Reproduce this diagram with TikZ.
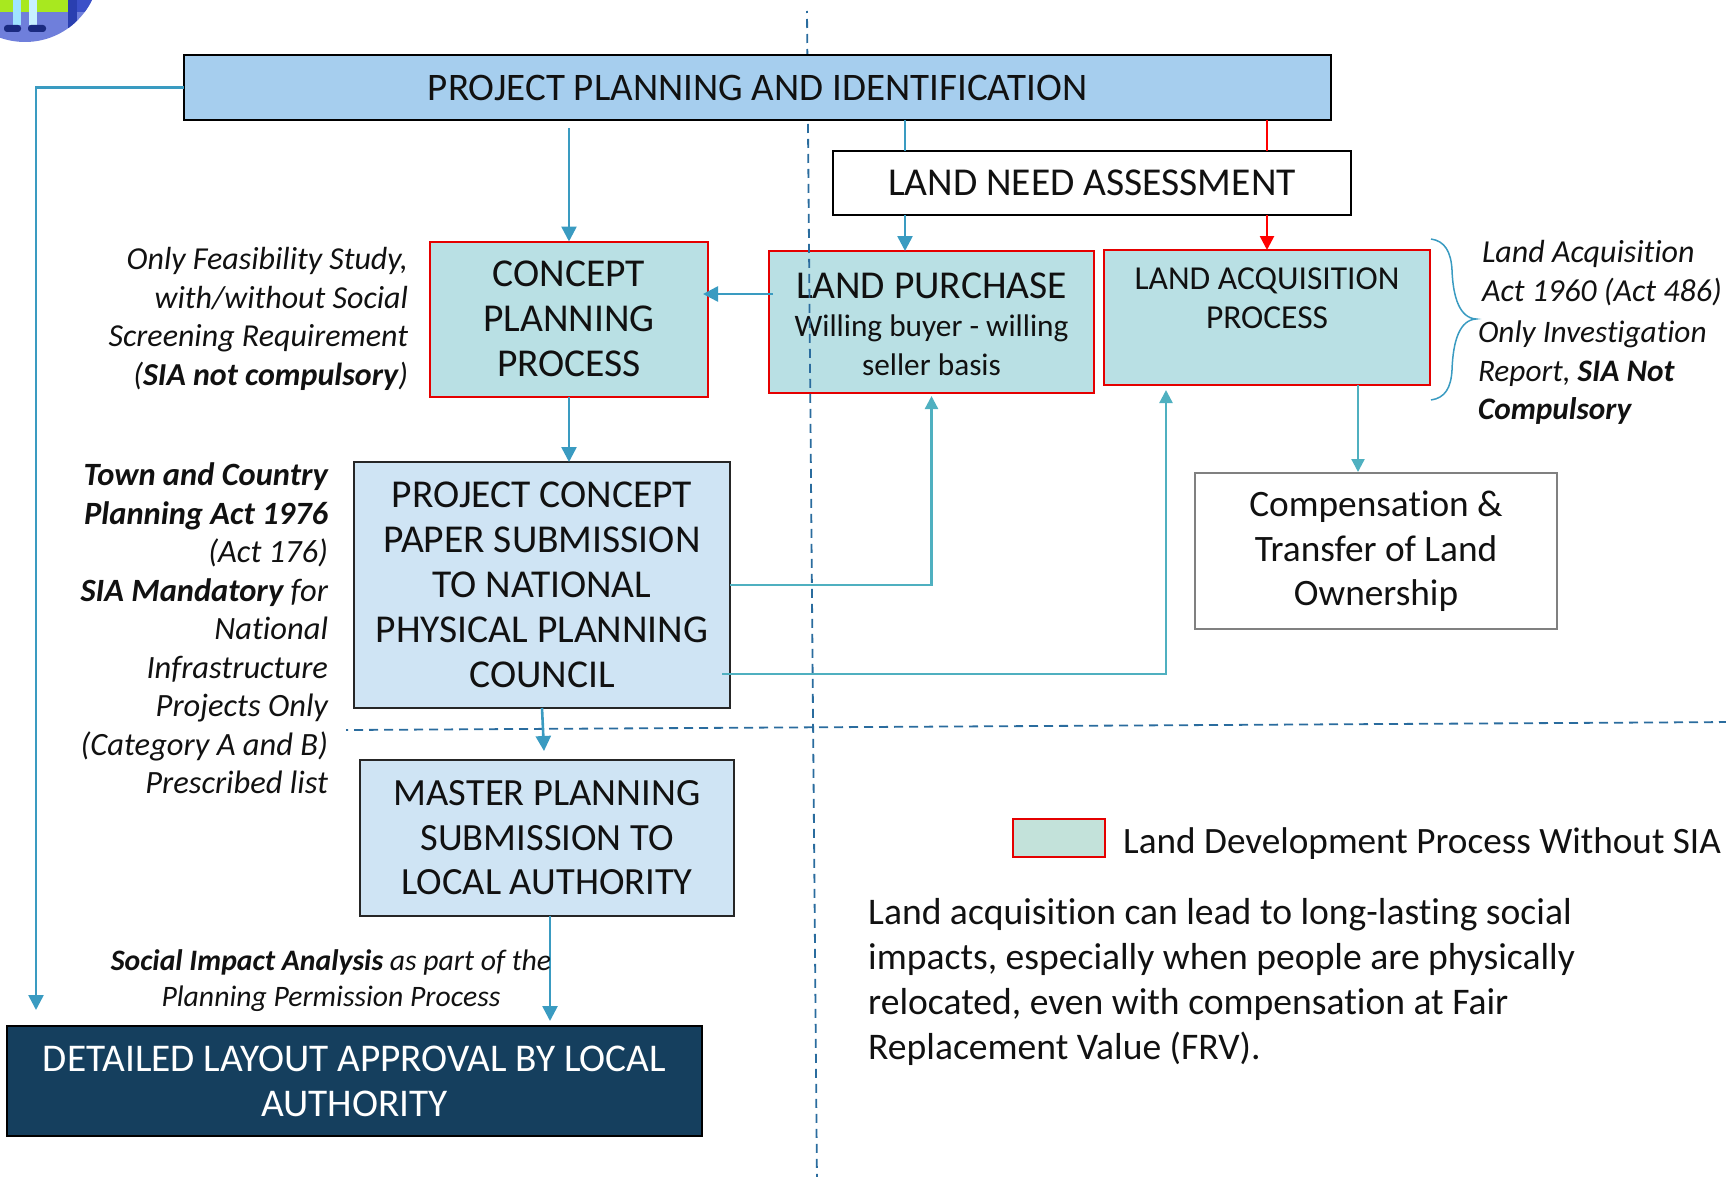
\documentclass[tikz,border=0pt]{standalone}
\usepackage{fontspec}
\setmainfont{Carlito}[Ligatures={NoCommon}]
\usetikzlibrary{arrows.meta,calc}
\definecolor{topfill}{HTML}{A6CEEE}
\definecolor{lightfill}{HTML}{CFE4F4}
\definecolor{tealfill}{HTML}{B9E0E4}
\definecolor{legfill}{HTML}{C3E2DA}
\definecolor{navyfill}{HTML}{153F5E}
\definecolor{arrowblue}{HTML}{3A9BC1}
\definecolor{arrowteal}{HTML}{4FB0C0}
\definecolor{dashblue}{HTML}{2A6C9E}
\definecolor{ink}{HTML}{111111}
\definecolor{logoback}{HTML}{6F7FDB}
\definecolor{logogreen}{HTML}{A8E81F}
\definecolor{logobar}{HTML}{2A3FB0}
\definecolor{logostrip}{HTML}{3B50C8}
\definecolor{logofoot}{HTML}{1A2A80}
\definecolor{logolegA}{HTML}{A0E4FF}
\definecolor{logolegB}{HTML}{C8F0FF}
\newcommand{\fs}[2]{\fontsize{#1pt}{#2pt}\selectfont}
\tikzset{
  x=1pt,y=-1pt,
  boxbase/.style={draw,line width=2pt,inner sep=0pt,outer sep=0pt,align=center,text=ink,font=\fs{39.5}{45}},
  topbox/.style={boxbase,draw=black,fill=topfill},
  bluebox/.style={boxbase,draw=black!85,fill=lightfill},
  plainbox/.style={boxbase,draw=black,fill=white},
  greybox/.style={boxbase,draw=black!50,fill=white},
  redbox/.style={boxbase,draw=red!90!black,fill=tealfill},
  navybox/.style={boxbase,draw=black,fill=navyfill,text=white},
  note/.style={inner sep=0pt,outer sep=0pt,text=ink,font=\fs{32}{38.5}\itshape},
  flow/.style={draw=arrowblue,line width=2.6pt,-{Triangle[width=15pt,length=15pt]}},
  flowplain/.style={draw=arrowblue,line width=2.6pt},
  tealflow/.style={draw=arrowteal,line width=2.3pt,-{Triangle[width=13pt,length=13pt]}},
  redflow/.style={draw=red,line width=2.6pt,-{Triangle[width=14pt,length=14pt]}},
  redplain/.style={draw=red,line width=2.6pt},
  guide/.style={draw=dashblue,line width=1.8pt,dash pattern=on 9pt off 6pt,dash phase=7pt},
}
\begin{document}
\begin{tikzpicture}
\useasboundingbox (0,0) rectangle (1726,1177);
% logo
\begin{scope}
\clip (0,0) rectangle (100,50);
\fill[logoback] (25,-32.4) circle (74.4);
\clip (25,-32.4) circle (74.4);
\fill[logogreen] (0,0) rectangle (68,12);
\fill[logobar] (68,0) rectangle (77,28);
\fill[logostrip] (77,0) rectangle (95,12);
\fill[logolegA] (13,0) rectangle (21,25);
\fill[logolegB] (29,0) rectangle (37,25);
\fill[logofoot,rounded corners=3pt] (4,25) rectangle (21,32);
\fill[logofoot,rounded corners=3pt] (28,25) rectangle (46,32);
\end{scope}
% guide lines
\coordinate (vtop) at (807,11);
\coordinate (vbot) at (817,1185);
\coordinate (hleft) at (346,730);
\coordinate (hright) at (1736,722);
% boxes beneath the guide lines
\node[redbox,minimum width=278pt,minimum height=155pt] (concept) at (569,319) {CONCEPT\\PLANNING\\PROCESS};
\node[redbox,minimum width=325pt,minimum height=142pt,font=\fs{31.3}{38.5}] (purchase) at (931.5,322) {\fs{39.5}{41}\rule{0pt}{30pt}LAND PURCHASE\\\fs{31.3}{38.5}Willing buyer - willing\\seller basis};
\node[redbox,minimum width=326pt,minimum height=135pt] (acq) at (1267,317.5) {};
\node[inner sep=0pt,text=ink,align=center,font=\fs{33.5}{39}] (acqlabel) at (1267,298) {LAND ACQUISITION\\PROCESS};
\node[bluebox,minimum width=376pt,minimum height=246pt] (paper) at (542,585) {PROJECT CONCEPT\\PAPER SUBMISSION\\TO NATIONAL\\PHYSICAL PLANNING\\COUNCIL};
\node[greybox,minimum width=362pt,minimum height=156pt] (comp) at (1376,551) {};
\node[inner sep=0pt,text=ink,align=center,font=\fs{37.3}{44.5}] (complabel) at (1376,551.5) {Compensation \&\\Transfer of Land\\Ownership};
\node[bluebox,minimum width=374pt,minimum height=156pt,font=\fs{38.5}{44.5}] (master) at (547,838) {MASTER PLANNING\\SUBMISSION TO\\LOCAL AUTHORITY};
\node[navybox,minimum width=695pt,minimum height=110pt,font=\fs{39.3}{45}] (detail) at (354.5,1081) {DETAILED LAYOUT APPROVAL BY LOCAL\\AUTHORITY};
\node[boxbase,draw=red!90!black,fill=legfill,minimum width=92pt,minimum height=38pt] (leg) at (1059,838) {};
% guide lines
\draw[guide] (vtop) -- (vbot);
\draw[guide] (hleft) -- (hright);
% boxes above the guide lines
\node[topbox,minimum width=1147pt,minimum height=65pt,font=\fs{39}{45}] (top) at (757.5,87.5) {PROJECT PLANNING AND IDENTIFICATION};
\node[plainbox,minimum width=518pt,minimum height=64pt] (need) at (1092,183) {LAND NEED ASSESSMENT};
% connectors
\coordinate (leftend) at (36,1010);
\draw[flow] (top.west) -| (leftend);
\draw[flow] ([yshift=-8pt]top.south -| concept.north) -- (concept.north);
\draw[flowplain] (top.south -| 905,0) -- (need.north -| 905,0);
\draw[flow] (need.south -| 905,0) -- (purchase.north -| 905,0);
\draw[redplain] (top.south -| acq.north) -- (need.north -| acq.north);
\draw[redflow] (need.south -| acq.north) -- (acq.north);
\draw[flow] ([xshift=4pt,yshift=28pt]purchase.west) -- ([xshift=-5pt,yshift=25pt]concept.east);
\draw[flow] (concept.south) -- (paper.north -| concept.south);
\draw[flow] (paper.south) -- ([xshift=2pt,yshift=9pt]master.north -| paper.south);
\draw[flow] ([xshift=3pt]master.south) -- ([xshift=3pt,yshift=5pt]detail.north -| master.south);
\draw[tealflow] (paper.east) -| ([yshift=-3pt]purchase.south);
\draw[tealflow] ([xshift=-8pt,yshift=-89pt]paper.east) -| ([xshift=-101pt,yshift=-5pt]acq.south);
\draw[tealflow] ([xshift=91pt]acq.south) -- ([yshift=1pt]comp.north -| 1358,0);
% brace
\coordinate (b1) at (1431,239);
\coordinate (b2) at (1476,319);
\coordinate (b3) at (1431,400);
\draw[draw=arrowblue,line width=1.5pt] (b1) .. controls (1445,241) and (1451,252) .. (1452,270) .. controls (1453,298) and (1460,318) .. (b2) .. controls (1460,320) and (1453,340) .. (1452,370) .. controls (1451,388) and (1445,398) .. (b3);
% notes
\node[note,anchor=east,align=right] (n1) at (408,319) {Only Feasibility Study,\\with/without  Social\\Screening Requirement\\(\textbf{SIA not compulsory})};
\node[note,anchor=north east,align=right,font=\fs{32.5}{38.5}\itshape] (n2) at (328,463) {\textbf{Town and Country}\\\textbf{Planning Act 1976}\\(Act 176)\\\textbf{SIA Mandatory} for\\National\\Infrastructure\\Projects Only\\(Category A and B)\\Prescribed list};
\node[note,anchor=west,align=left] (n3) at (1482,273) {Land Acquisition\\Act 1960 (Act 486)};
\node[note,anchor=north west,align=left,font=\fs{31.3}{38.5}\itshape] (n4) at (1478,321) {Only Investigation\\Report, \textbf{SIA Not}\\\textbf{Compulsory}};
\node[note,align=center,font=\fs{29.7}{36}\itshape] (n5) at (331,981) {\textbf{Social Impact Analysis} as part of the\\Planning Permission Process};
\node[inner sep=0pt,text=ink,font=\fs{37.2}{45},anchor=west] (legt) at (1123,844) {Land Development Process Without SIA};
\node[inner sep=0pt,text=ink,font=\fs{37.6}{45},anchor=north west,align=left] (body) at (868,898) {Land acquisition can lead to long-lasting social\\impacts, especially when people are physically\\relocated, even with compensation at Fair\\Replacement Value (FRV).};
\end{tikzpicture}
\end{document}
